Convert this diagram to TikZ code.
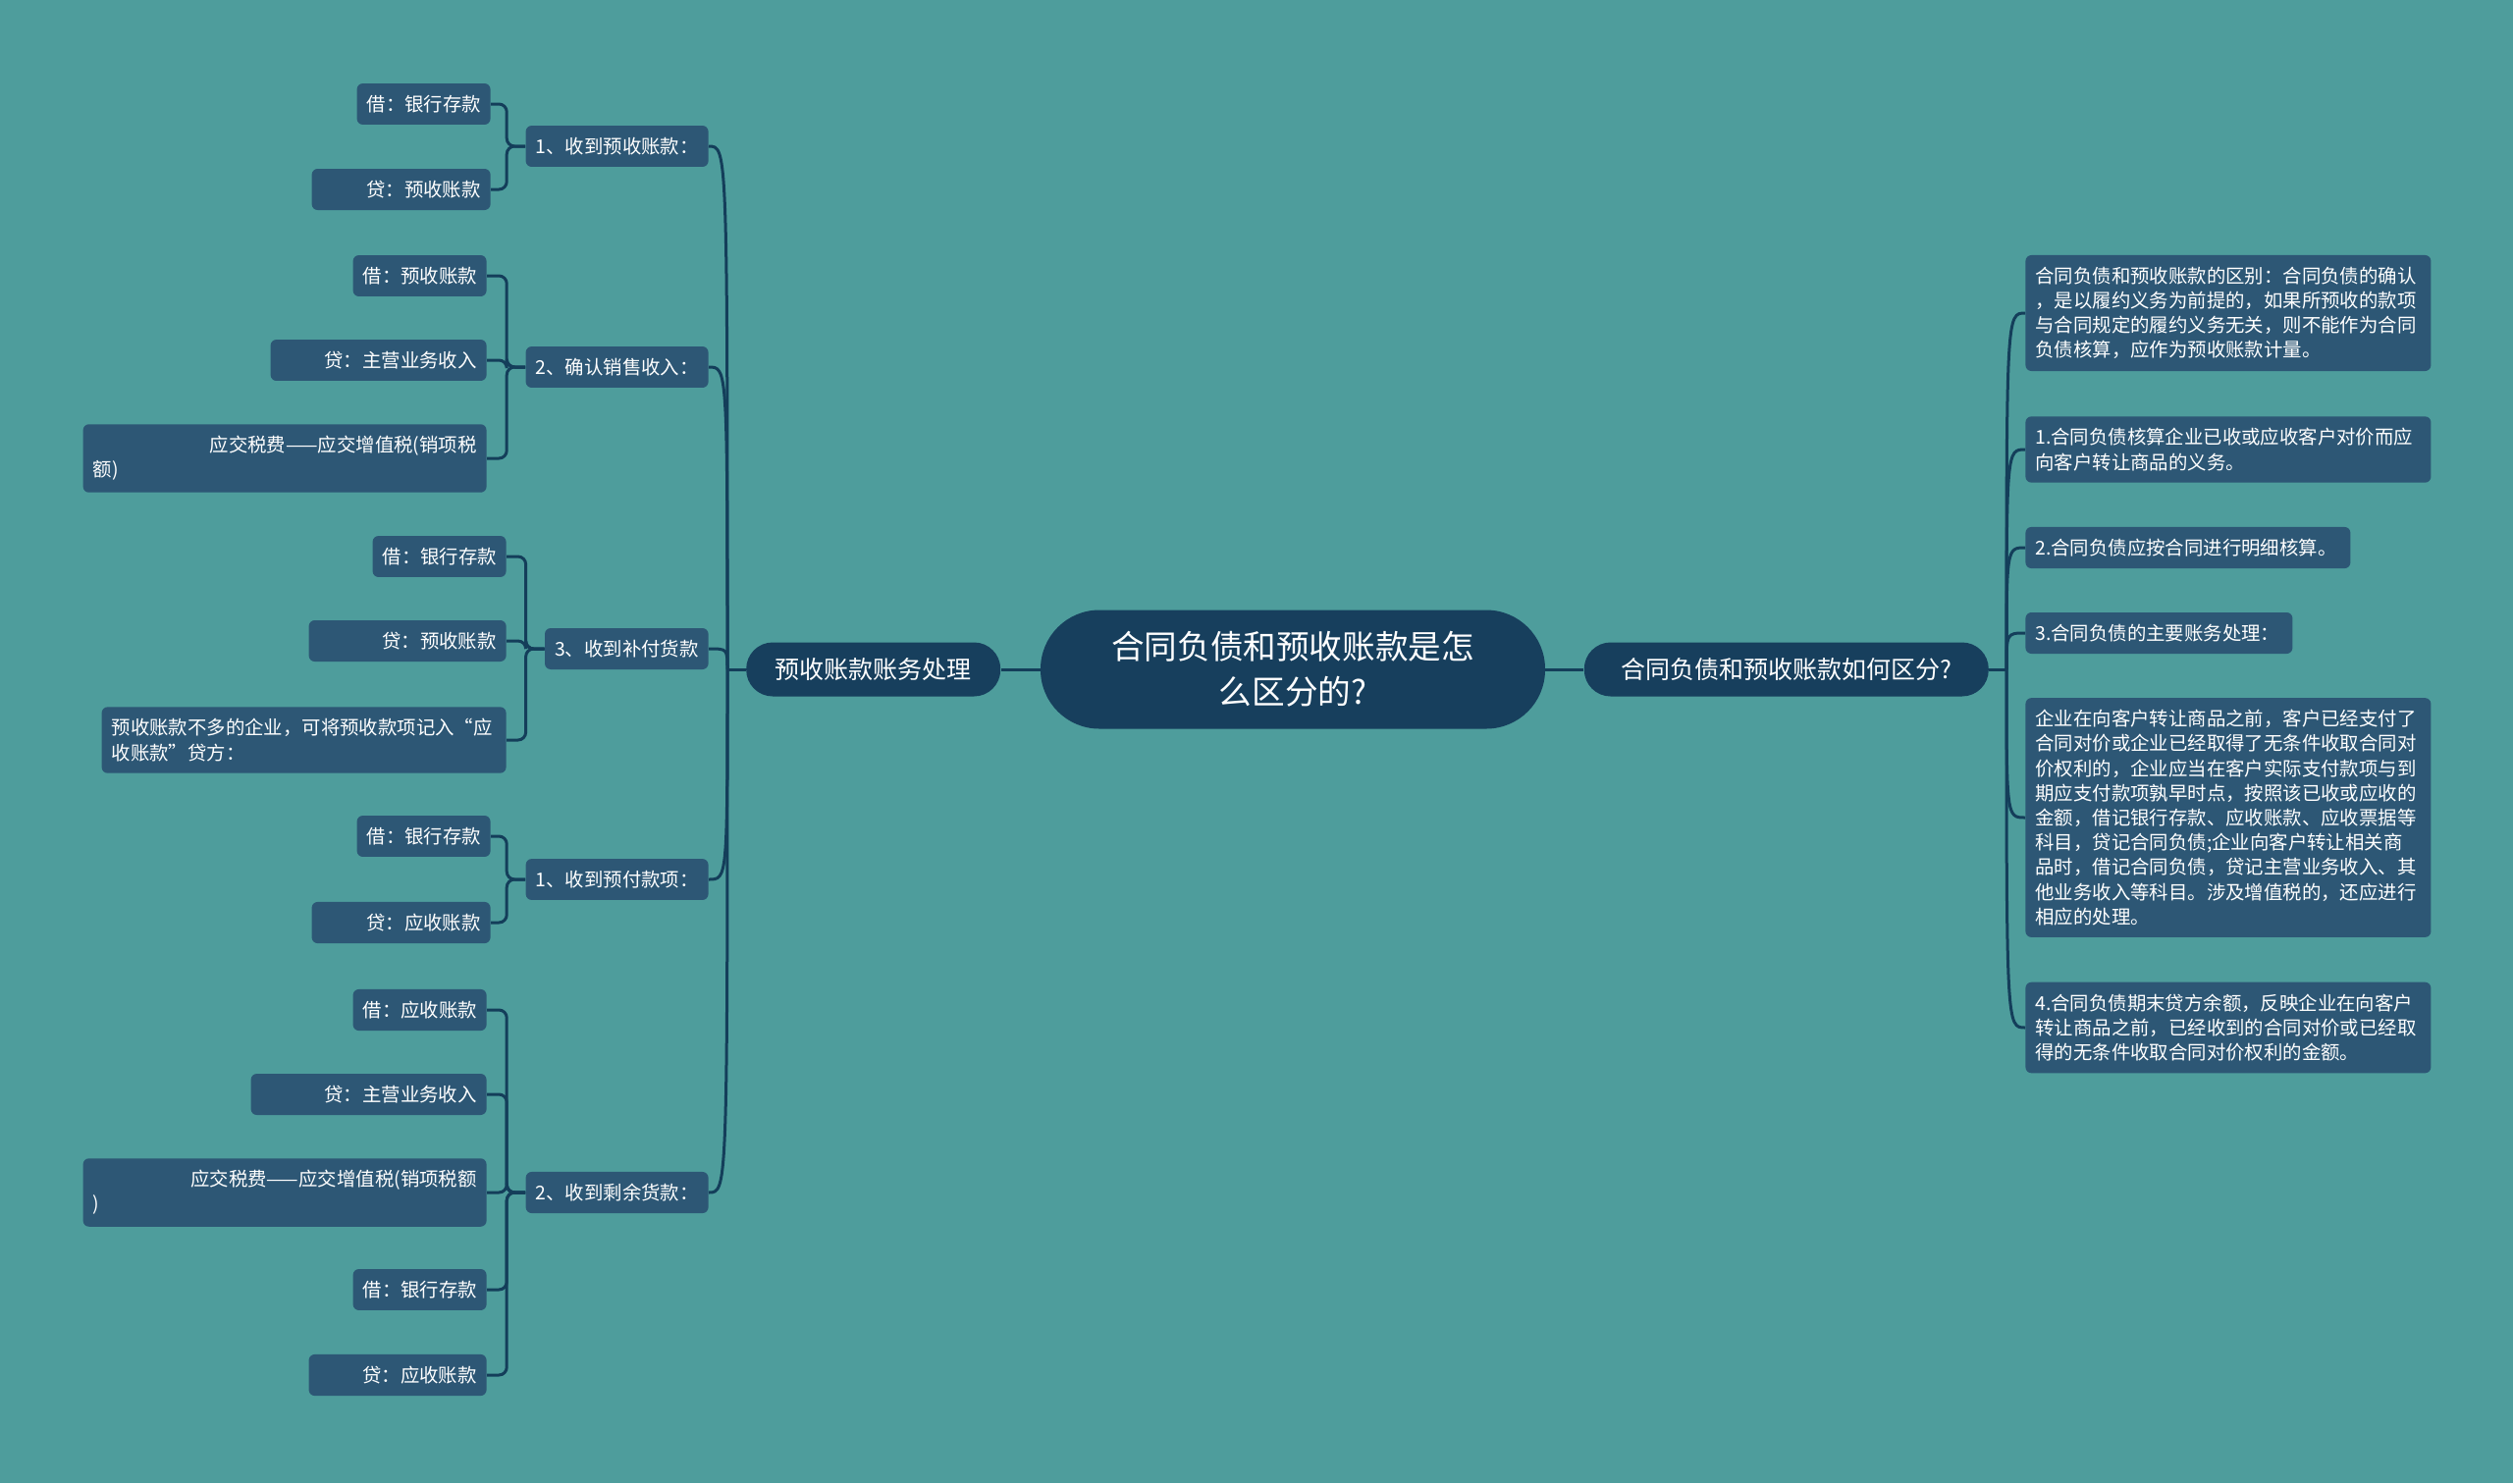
\documentclass[tikz,border=0pt]{standalone}
\usepackage{fontspec}
\setmainfont{Noto Sans CJK SC}
\usetikzlibrary{positioning}

\definecolor{bgteal}{RGB}{78,157,156}
\definecolor{navy}{RGB}{23,63,93}
\definecolor{leafblue}{RGB}{45,87,117}
\definecolor{linecol}{RGB}{20,62,90}

\tikzset{
  root/.style={fill=navy, text=white, rounded corners=30pt, minimum width=257pt,
    minimum height=60.5pt, align=center, font=\fontsize{16.8pt}{22.9pt}\selectfont},
  branch/.style={fill=navy, text=white, rounded corners=13.5pt, minimum height=27.5pt,
    inner xsep=12pt, font=\fontsize{12.5pt}{15pt}\selectfont},
  subtopic/.style={fill=leafblue, text=white, rounded corners=3pt, inner xsep=5pt,
    inner ysep=6pt, anchor=east, font=\fontsize{9.7pt}{12.6pt}\selectfont},
  leaf/.style={subtopic, text width=#1, align=right},
  leaf/.default=58pt,
  detail/.style={fill=leafblue, text=white, rounded corners=3pt, inner xsep=5pt,
    inner ysep=6pt, anchor=west, text width=#1, align=left,
    font=\fontsize{9.7pt}{12.6pt}\selectfont},
  detail/.default=196.5pt,
  link/.style={draw=linecol, line width=1.5pt},
  elbow/.style={link, rounded corners=4pt}
}

\begin{document}
\begin{tikzpicture}[x=0.5pt, y=-0.5pt]
  \fill[bgteal] (0,0) rectangle (2560,1511);
  \useasboundingbox (0,0) rectangle (2560,1511);

  % centre and the two branches
  \node[root] (root) at (1317,682) {合同负债和预收账款是怎\\么区分的?};
  \node[branch, minimum width=129.5pt, left=20pt of root] (acct) {预收账款账务处理};
  \node[branch, minimum width=206pt, right=19.5pt of root] (diff) {合同负债和预收账款如何区分?};

  % left side: journal entries
  \node[subtopic] (m1) at (722,149) {1、收到预收账款：};
  \node[subtopic] (m2) at (722,374) {2、确认销售收入：};
  \node[subtopic] (m3) at (722,661) {3、收到补付货款};
  \node[subtopic] (m4) at (722,896) {1、收到预付款项：};
  \node[subtopic] (m5) at (722,1215) {2、收到剩余货款：};

  \node[leaf] (l11) at (500,106) {借：银行存款};
  \node[leaf=81pt] (l12) at (500,193) {贷：预收账款};

  \node[leaf] (l21) at (496,281) {借：预收账款};
  \node[leaf=100pt] (l22) at (496,367) {贷：主营业务收入};
  \node[leaf=195.5pt, align=left] (l23) at (496,467)
    {\hspace*{\fill}应交税费——应交增值税(销项税\\额)};

  \node[leaf] (l31) at (516,567) {借：银行存款};
  \node[leaf=90.5pt] (l32) at (516,653) {贷：预收账款};
  \node[leaf=196pt, align=left] (l33) at (516,754)
    {预收账款不多的企业，可将预收款项记入“应\\收账款”贷方：};

  \node[leaf] (l41) at (500,852) {借：银行存款};
  \node[leaf=81pt] (l42) at (500,940) {贷：应收账款};

  \node[leaf] (l51) at (496,1029) {借：应收账款};
  \node[leaf=110pt] (l52) at (496,1115) {贷：主营业务收入};
  \node[leaf=195.5pt, align=left] (l53) at (496,1215)
    {\hspace*{\fill}应交税费——应交增值税(销项税额\\)};
  \node[leaf] (l54) at (496,1314) {借：银行存款};
  \node[leaf=80.5pt] (l55) at (496,1401) {贷：应收账款};

  % right side: explanations
  \node[detail] (r1) at (2063,319) {合同负债和预收账款的区别：合同负债的确认\\，是以履约义务为前提的，如果所预收的款项\\与合同规定的履约义务无关，则不能作为合同\\负债核算，应作为预收账款计量。};
  \node[detail] (r2) at (2063,458) {1.合同负债核算企业已收或应收客户对价而应\\向客户转让商品的义务。};
  \node[detail=155.5pt] (r3) at (2063,558) {2.合同负债应按合同进行明细核算。};
  \node[detail=126pt] (r4) at (2063,645) {3.合同负债的主要账务处理：};
  \node[detail] (r5) at (2063,833) {企业在向客户转让商品之前，客户已经支付了\\合同对价或企业已经取得了无条件收取合同对\\价权利的，企业应当在客户实际支付款项与到\\期应支付款项孰早时点，按照该已收或应收的\\金额，借记银行存款、应收账款、应收票据等\\科目，贷记合同负债;企业向客户转让相关商\\品时，借记合同负债，贷记主营业务收入、其\\他业务收入等科目。涉及增值税的，还应进行\\相应的处理。};
  \node[detail] (r6) at (2063,1047) {4.合同负债期末贷方余额，反映企业在向客户\\转让商品之前，已经收到的合同对价或已经取\\得的无条件收取合同对价权利的金额。};

  % connectors
  \draw[link] (root.west) -- (acct.east);
  \draw[link] (root.east) -- (diff.west);

  \coordinate (lhub) at (741,682);
  \coordinate (rhub) at (2044,682);
  \draw[link] (acct.west) -- (lhub);
  \draw[link] (diff.east) -- (rhub);
  \foreach \m in {m1,m2,m3,m4,m5}
    \draw[link] (lhub) .. controls (lhub |- \m.east) .. (\m.east);
  \foreach \r in {r1,r2,r3,r4,r5,r6}
    \draw[link] (rhub) .. controls (rhub |- \r.west) .. (\r.west);

  \foreach \l in {l11,l12}
    \draw[elbow] (m1.west) -- ++(-19,0) |- (\l.east);
  \foreach \l in {l21,l22,l23}
    \draw[elbow] (m2.west) -- ++(-19,0) |- (\l.east);
  \foreach \l in {l31,l32,l33}
    \draw[elbow] (m3.west) -- ++(-19,0) |- (\l.east);
  \foreach \l in {l41,l42}
    \draw[elbow] (m4.west) -- ++(-19,0) |- (\l.east);
  \foreach \l in {l51,l52,l53,l54,l55}
    \draw[elbow] (m5.west) -- ++(-19,0) |- (\l.east);
\end{tikzpicture}
\end{document}
